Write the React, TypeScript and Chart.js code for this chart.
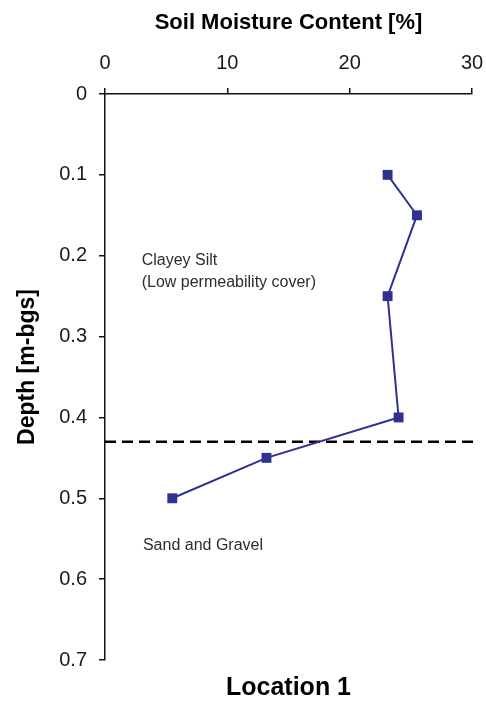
import React, { useEffect, useRef } from "react";
import { Chart, registerables } from "chart.js";

Chart.register(...registerables);

// Soil moisture profile (Location 1)
const moisture = [23.1, 25.5, 23.1, 24.0, 13.2, 5.5];
const depth = [0.1, 0.15, 0.25, 0.4, 0.45, 0.5];

// Layer boundary (dashed line)
const boundaryDepth = 0.43;
const boundaryMoisture = [0, 30.3];

// Layer labels
const layerLabels = ["Clayey Silt", "(Low permeability cover)", "Sand and Gravel"];
const layerLabelMoisture = [3, 3, 3.1];
const layerLabelDepth = [0.206, 0.233, 0.558];

const xTitle = "Soil Moisture Content [%]";
const yTitle = "Depth [m-bgs]";
const chartTitle = "Location 1";

const FONT = "'Liberation Sans', Arial, Helvetica, sans-serif";

const textPlugin = {
  id: "textLabels",
  afterDatasetsDraw(chart: any) {
    const { ctx, scales, chartArea } = chart;
    ctx.save();
    ctx.font = `16px ${FONT}`;
    ctx.fillStyle = "#2b2b33";
    ctx.textAlign = "left";
    ctx.textBaseline = "middle";
    layerLabels.forEach((t, i) => {
      ctx.fillText(
        t,
        scales.x.getPixelForValue(layerLabelMoisture[i]),
        scales.y.getPixelForValue(layerLabelDepth[i])
      );
    });
    // y-axis title (rotated), slightly above the plot's vertical centre
    ctx.font = `bold 23px ${FONT}`;
    ctx.fillStyle = "#000";
    ctx.textAlign = "center";
    ctx.translate(28, (chartArea.top + chartArea.bottom) / 2 - 10);
    ctx.rotate(-Math.PI / 2);
    ctx.fillText(yTitle, 0, 0);
    ctx.restore();
  },
};

export default function App() {
  const ref = useRef<HTMLCanvasElement | null>(null);

  useEffect(() => {
    if (!ref.current) return;
    Chart.defaults.font.family = FONT;
    const chart = new Chart(ref.current, {
      type: "scatter",
      data: {
        datasets: [
          {
            data: moisture.map((m, i) => ({ x: m, y: depth[i] })),
            showLine: true,
            borderColor: "#2E3192",
            backgroundColor: "#2E3192",
            borderWidth: 2,
            pointStyle: "rect",
            pointRadius: 7,
            pointBorderWidth: 0,
            tension: 0,
          },
          {
            data: boundaryMoisture.map((m) => ({ x: m, y: boundaryDepth })),
            showLine: true,
            borderColor: "#000000",
            borderWidth: 2.5,
            borderDash: [11, 6],
            pointRadius: 0,
            clip: false as any,
          },
        ],
      },
      options: {
        animation: false,
        responsive: true,
        maintainAspectRatio: false,
        layout: { padding: { left: 0, right: 14, top: 0, bottom: 0 } },
        plugins: {
          legend: { display: false },
          tooltip: { enabled: false },
          title: {
            display: true,
            text: chartTitle,
            position: "bottom",
            fullSize: false,
            color: "#000",
            font: { size: 25, weight: "bold", family: FONT },
            padding: { top: 13, bottom: 3 },
          },
        },
        scales: {
          x: {
            type: "linear",
            position: "top",
            min: 0,
            max: 30,
            ticks: {
              stepSize: 10,
              color: "#1a1a1a",
              font: { size: 20, family: FONT },
              padding: 13,
            },
            grid: {
              drawOnChartArea: false,
              drawTicks: true,
              tickLength: 6,
              color: "#111",
              lineWidth: 1.5,
            },
            border: { display: true, color: "#111", width: 1.5 },
            title: {
              display: true,
              text: xTitle,
              color: "#000",
              font: { size: 22, weight: "bold", family: FONT },
              padding: { top: 10, bottom: 0 },
            },
            afterFit(scale: any) {
              scale.height = 94;
              scale.paddingLeft = 0;
              scale.paddingRight = 0;
            },
          },
          y: {
            type: "linear",
            position: "left",
            reverse: true,
            min: 0,
            max: 0.7,
            ticks: {
              stepSize: 0.1,
              color: "#1a1a1a",
              font: { size: 20, family: FONT },
              padding: 12,
              callback: (v: any) => (Number(v) === 0 ? "0" : Number(v).toFixed(1)),
            },
            grid: {
              drawOnChartArea: false,
              drawTicks: true,
              tickLength: 6,
              color: "#111",
              lineWidth: 1.5,
            },
            border: { display: true, color: "#111", width: 1.5 },
            title: { display: false, text: yTitle },
            afterFit(scale: any) {
              scale.width = 105;
            },
          },
        },
      },
      plugins: [textPlugin],
    });
    return () => chart.destroy();
  }, []);

  return (
    <div style={{ position: "absolute", left: 0, top: 0, width: 486, height: 706, background: "#fff" }}>
      <canvas ref={ref} />
    </div>
  );
}
